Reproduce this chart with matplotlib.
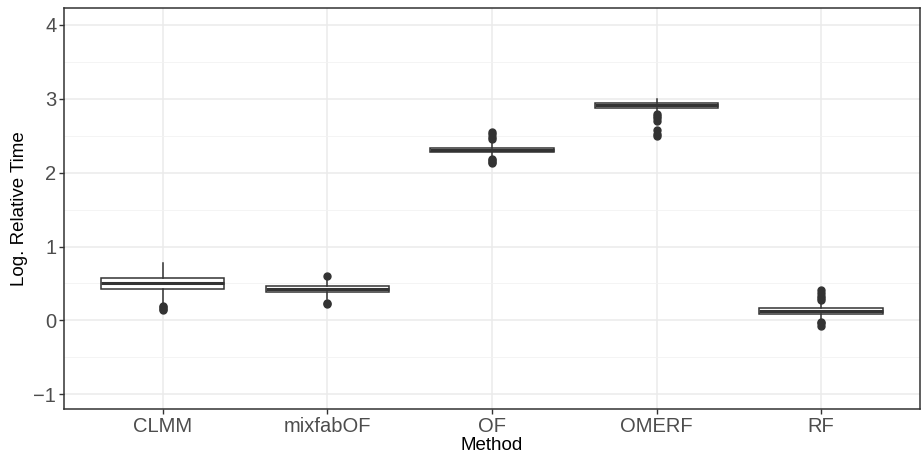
import matplotlib.pyplot as plt

plt.rcParams.update({
    "font.family": ["Liberation Sans", "DejaVu Sans"],
    "font.size": 13,
})

# --- data ---
methods = ["CLMM", "mixfabOF", "OF", "OMERF", "RF"]
q1 = [0.42, 0.38, 2.28, 2.87, 0.09]
med = [0.50, 0.42, 2.31, 2.92, 0.13]
q3 = [0.57, 0.47, 2.34, 2.94, 0.17]
whislo = [0.21, 0.29, 2.22, 2.83, 0.02]
whishi = [0.78, 0.54, 2.41, 3.00, 0.23]
fliers = [
    [0.14, 0.16, 0.18, 0.19],
    [0.22, 0.24, 0.60],
    [2.13, 2.15, 2.17, 2.19, 2.45, 2.48, 2.52, 2.55],
    [2.50, 2.53, 2.58, 2.70, 2.74, 2.77, 2.80],
    [-0.07, -0.04, -0.02, 0.27, 0.30, 0.33, 0.37, 0.41],
]

stats = []
for i, m in enumerate(methods):
    stats.append({"label": m, "q1": q1[i], "med": med[i], "q3": q3[i],
                  "whislo": whislo[i], "whishi": whishi[i], "fliers": fliers[i]})

dark = "#333333"
fig = plt.figure(figsize=(9.22, 4.59), dpi=100)
ax = fig.add_axes([0.0694, 0.109, 0.9284, 0.8736])

pos = list(range(1, len(methods) + 1))
ax.bxp(stats, positions=pos, widths=0.75, patch_artist=True,
       boxprops=dict(facecolor="white", edgecolor=dark, linewidth=1.1),
       medianprops=dict(color=dark, linewidth=2.2),
       whiskerprops=dict(color=dark, linewidth=1.1),
       capprops=dict(linewidth=0),
       flierprops=dict(marker="o", markerfacecolor=dark, markeredgecolor=dark,
                       markersize=5),
       zorder=3)

ax.set_xlim(0.4, 5.6)
ax.set_ylim(-1.20, 4.23)
ax.set_yticks([-1, 0, 1, 2, 3, 4])
ax.set_yticklabels(["\u22121", "0", "1", "2", "3", "4"])
ax.set_yticks([-0.5, 0.5, 1.5, 2.5, 3.5], minor=True)
ax.set_xticks(pos)
ax.set_xticklabels(methods)

ax.grid(True, which="major", color="#EBEBEB", linewidth=1.1, zorder=0)
ax.grid(True, which="minor", axis="y", color="#F2F2F2", linewidth=0.6, zorder=0)
ax.set_axisbelow(True)

for s in ax.spines.values():
    s.set_color(dark)
    s.set_linewidth(1.1)

ax.tick_params(axis="both", which="major", color=dark, length=3.5, width=1.0,
               labelcolor="#4D4D4D", labelsize=14.5, pad=2)
ax.tick_params(axis="both", which="minor", length=0)

ax.set_xlabel("Method", fontsize=13.5, color="black", labelpad=1)
ax.set_ylabel("Log. Relative Time", fontsize=13.5, color="black", labelpad=4)

fig.savefig("out.png", dpi=100)
